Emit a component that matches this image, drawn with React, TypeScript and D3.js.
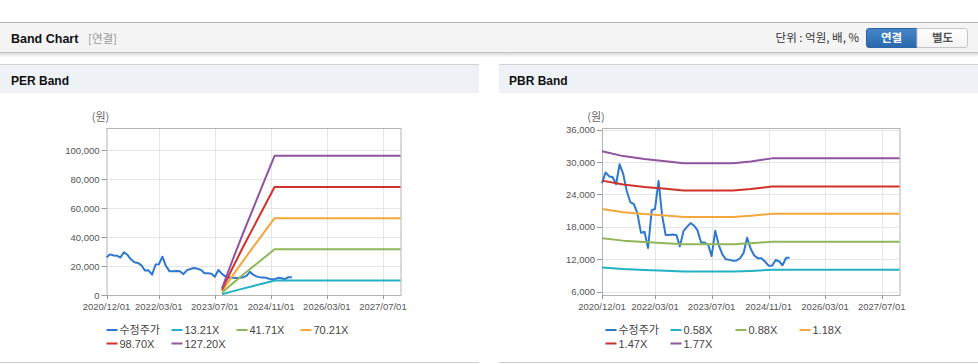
import React from 'react';
import * as d3 from 'd3';

const W = 978;
const H = 364;
const FONT = "'Liberation Sans', Arial, 'Noto Sans CJK KR', sans-serif";
const KFONT = "'Noto Sans CJK KR', 'Liberation Sans', sans-serif";

// ---- data ----
const xDomain = ['2020-12-01', '2027-12-01'];
const xTickDates = ['2020-12-01', '2022-03-01', '2023-07-01', '2024-11-01', '2026-03-01', '2027-07-01'];
const xTickLabels = ['2020/12/01', '2022/03/01', '2023/07/01', '2024/11/01', '2026/03/01', '2027/07/01'];

const priceStart = '2020-12-01';
const priceValues = [
  26100, 28080, 27340, 27220, 25900, 29600, 27800, 24700, 22600, 22200,
  20500, 16900, 17100, 14100, 21100, 21300, 26500, 20200, 16500, 16500,
  16600, 16500, 14400, 17200, 18000, 18700, 18200, 17400, 15100, 15100,
  14700, 12600, 17300, 14600, 12900, 12000, 11900, 11750, 11800, 12200,
  13200, 16000, 13900, 12700, 12180, 12180, 11600, 10820, 10820, 11870,
  11600, 10900, 12300, 12300,
];

const perBandDates = ['2023-09-01', '2023-12-01', '2024-03-01', '2024-06-01', '2024-09-01', '2024-12-01', '2027-12-01'];
const per13 = [480, 2490, 4410, 6280, 8150, 10000, 10000];
const per41 = [1510, 7870, 13940, 19840, 25740, 31580, 31580];
const per70 = [2540, 13250, 23460, 33400, 43330, 53160, 53160];
const per98 = [3570, 18620, 32980, 46940, 60920, 74720, 74720];
const per127 = [4600, 24000, 42500, 60500, 78500, 96300, 96300];
const perNames = ['수정주가', '13.21X', '41.71X', '70.21X', '98.70X', '127.20X'];
const perYTicks = [0, 20000, 40000, 60000, 80000, 100000];
const perYMax = 115500;

const pbrBandDates = ['2020-12-01', '2021-06-01', '2021-12-01', '2022-06-01', '2022-11-01', '2024-01-01', '2024-06-01', '2024-12-01', '2027-12-01'];
const pbr058 = [10480, 10190, 10010, 9880, 9760, 9760, 9860, 10050, 10050];
const pbr088 = [15900, 15460, 15190, 14990, 14810, 14810, 14960, 15250, 15250];
const pbr118 = [21320, 20730, 20370, 20100, 19850, 19850, 20070, 20450, 20450];
const pbr147 = [26560, 25830, 25370, 25040, 24730, 24730, 25000, 25480, 25480];
const pbr177 = [31980, 31100, 30550, 30150, 29780, 29780, 30100, 30680, 30680];
const pbrNames = ['수정주가', '0.58X', '0.88X', '1.18X', '1.47X', '1.77X'];
const pbrYTicks = [6000, 12000, 18000, 24000, 30000, 36000];
const pbrYDomain = [5400, 36300];

const colors = ['#2f78d0', '#22b2c4', '#8fb75a', '#f2a83a', '#d2312b', '#90549f'];

type Pt = { d: Date; v: number };
const parse = (s: string) => new Date(s + 'T00:00:00Z');
const pricePts: Pt[] = priceValues.map((v, i) => ({ d: d3.utcMonth.offset(parse(priceStart), i), v }));
const toPts = (dates: string[], vals: number[]): Pt[] => vals.map((v, i) => ({ d: parse(dates[i]), v }));

const perSeries = [pricePts, ...[per13, per41, per70, per98, per127].map((a) => toPts(perBandDates, a))];
const pbrSeries = [pricePts, ...[pbr058, pbr088, pbr118, pbr147, pbr177].map((a) => toPts(pbrBandDates, a))];

type ChartProps = {
  left: number;
  right: number;
  top: number;
  bottom: number;
  yDomain: number[];
  yTicks: number[];
  series: Pt[][];
  names: string[];
  legendLeft: number;
};

function BandChart({ left, right, top, bottom, yDomain, yTicks, series, names, legendLeft }: ChartProps) {
  const x = d3.scaleUtc().domain(xDomain.map(parse)).range([left, right]);
  const y = d3.scaleLinear().domain(yDomain).range([bottom, top]);
  const line = d3
    .line<Pt>()
    .x((p) => x(p.d))
    .y((p) => y(p.v));
  const fmt = d3.format(',');
  const legendCols = [0, 65, 130, 194];
  return (
    <g>
      <text x={(left) - 6} y={121} textAnchor="middle" fontFamily={KFONT} fontSize={11} fill="#666">
        (원)
      </text>
      {/* grid */}
      {yTicks.map((t) => (
        <line key={'gy' + t} x1={left} x2={right} y1={Math.round(y(t)) + 0.5} y2={Math.round(y(t)) + 0.5} stroke="#e6e6e6" />
      ))}
      {xTickDates.slice(1).map((t) => (
        <line key={'gx' + t} x1={Math.round(x(parse(t))) + 0.5} x2={Math.round(x(parse(t))) + 0.5} y1={top} y2={bottom} stroke="#e6e6e6" />
      ))}
      <rect x={left + 0.5} y={top + 0.5} width={right - left} height={bottom - top} fill="none" stroke="#b4b4b4" />
      {/* y ticks */}
      {yTicks.map((t) => (
        <g key={'ty' + t}>
          <line x1={left - 5} x2={left} y1={Math.round(y(t)) + 0.5} y2={Math.round(y(t)) + 0.5} stroke="#999" />
          <text x={left - 7} y={y(t) + 3.5} textAnchor="end" fontFamily={FONT} fontSize={9.5} fill="#555">
            {fmt(t)}
          </text>
        </g>
      ))}
      {/* x ticks */}
      {xTickDates.map((t, i) => (
        <g key={'tx' + t}>
          <line x1={Math.round(x(parse(t))) + 0.5} x2={Math.round(x(parse(t))) + 0.5} y1={bottom} y2={bottom + 4} stroke="#999" />
          <text x={x(parse(t))} y={310} textAnchor="middle" fontFamily={FONT} fontSize={9.5} fill="#555">
            {xTickLabels[i]}
          </text>
        </g>
      ))}
      {/* series */}
      {series.map((s, i) => (
        <path key={'s' + i} d={line(s) || ''} fill="none" stroke={colors[i]} strokeWidth={2} strokeLinejoin="round" />
      ))}
      {/* legend */}
      {names.map((n, i) => {
        const row = i < 4 ? 0 : 1;
        const col = i < 4 ? i : i - 4;
        const lx = legendLeft + legendCols[col];
        const ly = row === 0 ? 330 : 343.5;
        return (
          <g key={'lg' + i}>
            <line x1={lx} x2={lx + 11} y1={ly} y2={ly} stroke={colors[i]} strokeWidth={2} />
            <text x={lx + 13} y={ly + 4} fontFamily={i === 0 ? KFONT : FONT} fontSize={11} fill="#444">
              {n}
            </text>
          </g>
        );
      })}
    </g>
  );
}

export default function App() {
  return (
    <div style={{ position: 'absolute', left: 0, top: 0, width: W, height: H, background: '#fff' }}>
      <svg width={W} height={H} style={{ display: 'block' }}>
        <defs>
          <linearGradient id="shadow" x1="0" y1="0" x2="0" y2="1">
            <stop offset="0" stopColor="#d8d8d8" />
            <stop offset="1" stopColor="#ffffff" />
          </linearGradient>
          <linearGradient id="btnBlue" x1="0" y1="0" x2="0" y2="1">
            <stop offset="0" stopColor="#4586c9" />
            <stop offset="1" stopColor="#2a68ab" />
          </linearGradient>
          <linearGradient id="btnWhite" x1="0" y1="0" x2="0" y2="1">
            <stop offset="0" stopColor="#ffffff" />
            <stop offset="1" stopColor="#f3f3f3" />
          </linearGradient>
        </defs>
        {/* top header bar */}
        <rect x={0} y={22} width={W} height={31} fill="#f4f4f4" />
        <line x1={0} x2={W} y1={22.5} y2={22.5} stroke="#b5b5b5" />
        <line x1={0} x2={W} y1={52.5} y2={52.5} stroke="#c4c4c4" />
        <rect x={0} y={53} width={W} height={4} fill="url(#shadow)" />
        <text x={11} y={43} fontFamily={FONT} fontWeight="bold" fontSize={12.5} fill="#111">
          Band Chart
        </text>
        <text x={88} y={43} fontFamily={KFONT} fontSize={11.5} fill="#999">
          [연결]
        </text>
        <text x={859} y={42} textAnchor="end" fontFamily={KFONT} fontSize={11.5} fill="#333">
          단위 : 억원, 배, %
        </text>
        <path d="M917,28.5 L869,28.5 Q866.5,28.5 866.5,31 L866.5,45 Q866.5,47.5 869,47.5 L917,47.5 Z" fill="url(#btnBlue)" stroke="#2c66a6" />
        <path d="M917,28.5 L965,28.5 Q967.5,28.5 967.5,31 L967.5,45 Q967.5,47.5 965,47.5 L917,47.5 Z" fill="url(#btnWhite)" stroke="#c6c6c6" />
        <text x={891.5} y={42} textAnchor="middle" fontFamily={KFONT} fontWeight="bold" fontSize={11.5} fill="#fff">
          연결
        </text>
        <text x={942.5} y={42} textAnchor="middle" fontFamily={KFONT} fontWeight="bold" fontSize={11.5} fill="#555">
          별도
        </text>

        {/* panel headers */}
        <rect x={0} y={64} width={479} height={29} fill="#eef2f7" />
        <line x1={0} x2={479} y1={64.5} y2={64.5} stroke="#d2d2d2" />
        <rect x={499} y={64} width={479} height={29} fill="#eef2f7" />
        <line x1={499} x2={978} y1={64.5} y2={64.5} stroke="#d2d2d2" />
        <text x={11} y={85} fontFamily={FONT} fontWeight="bold" fontSize={12} fill="#111">
          PER Band
        </text>
        <text x={509} y={85} fontFamily={FONT} fontWeight="bold" fontSize={12} fill="#111">
          PBR Band
        </text>
        <line x1={0} x2={479} y1={362.5} y2={362.5} stroke="#cfcfcf" />
        <line x1={499} x2={978} y1={362.5} y2={362.5} stroke="#cfcfcf" />

        <BandChart
          left={106.5}
          right={400.5}
          top={128}
          bottom={295}
          yDomain={[0, perYMax]}
          yTicks={perYTicks}
          series={perSeries}
          names={perNames}
          legendLeft={106.5}
        />
        <BandChart
          left={602}
          right={899.5}
          top={128}
          bottom={295}
          yDomain={pbrYDomain}
          yTicks={pbrYTicks}
          series={pbrSeries}
          names={pbrNames}
          legendLeft={605.5}
        />
      </svg>
    </div>
  );
}
